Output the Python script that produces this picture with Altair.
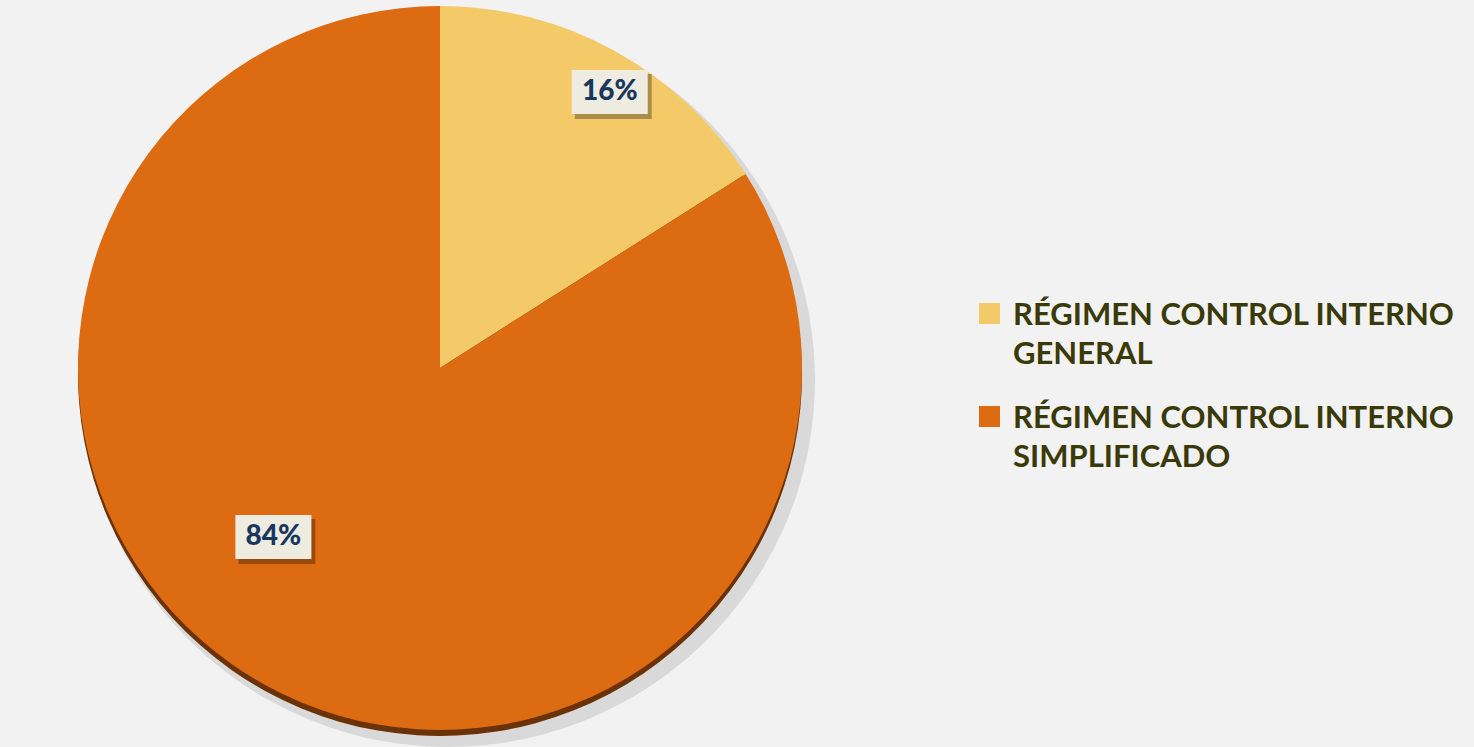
import altair as alt
import pandas as pd

categories = ["RÉGIMEN CONTROL INTERNO GENERAL", "RÉGIMEN CONTROL INTERNO SIMPLIFICADO"]
legend_labels = ["RÉGIMEN CONTROL INTERNO\nGENERAL", "RÉGIMEN CONTROL INTERNO\nSIMPLIFICADO"]
values = [16, 84]
pct_labels = ["16%", "84%"]
colors = ["#F4CA69", "#DD6B12"]

df = pd.DataFrame({
    "cat": categories,
    "legend": legend_labels,
    "value": values,
    "label": pct_labels,
    "order": [0, 1],
})

W, H = 1474, 747
CX, CY, R = 440, 368, 362

base = alt.Chart(df)
color_scale = alt.Scale(domain=categories, range=colors)

theta = alt.Theta("value:Q", stack=True)
order = alt.Order("order:Q")

shadow = base.mark_arc(radius=R + 5, color="#000000", opacity=0.10).encode(
    theta=theta, order=order, x=alt.value(CX + 8), y=alt.value(CY + 12)
)
rim = base.mark_arc(radius=R, color="#6A3206").encode(
    theta=theta, order=order, x=alt.value(CX), y=alt.value(CY + 6)
)
pie = base.mark_arc(radius=R).encode(
    theta=theta,
    order=order,
    color=alt.Color("cat:N", scale=color_scale, legend=None),
    x=alt.value(CX),
    y=alt.value(CY),
)

lab = base.transform_joinaggregate(total="sum(value)").transform_window(
    cum="sum(value)", sort=[alt.SortField("order")]
).transform_calculate(
    mid="(datum.cum - datum.value / 2) / datum.total * 2 * PI",
    rf="datum.value < 50 ? 0.87 : 0.64",
).transform_calculate(
    px=f"{CX} + {R} * datum.rf * sin(datum.mid) + (datum.value < 50 ? 18 : -55)",
    py=f"{CY} - {R} * datum.rf * cos(datum.mid) - (datum.value < 50 ? 0 : 34)",
).transform_calculate(
    bx0="datum.px - 38", bx1="datum.px + 38", by0="datum.py - 22", by1="datum.py + 22",
    sx0="datum.px - 35", sx1="datum.px + 42", sy0="datum.py - 18", sy1="datum.py + 27",
)

box_shadow = lab.mark_rect(color="#000000", opacity=0.3).encode(
    x=alt.X("sx0:Q", scale=None), x2="sx1:Q",
    y=alt.Y("sy0:Q", scale=None), y2="sy1:Q",
)
box = lab.mark_rect(color="#EEEBE0").encode(
    x=alt.X("bx0:Q", scale=None), x2="bx1:Q",
    y=alt.Y("by0:Q", scale=None), y2="by1:Q",
)
box_text = lab.mark_text(
    font="Lato", fontWeight=900, fontSize=28, color="#17375E",
    align="center", baseline="middle",
).encode(
    x=alt.X("px:Q", scale=None), y=alt.Y("py:Q", scale=None), text="label:N"
)

leg_sq = base.mark_square(size=441, opacity=1, filled=True).encode(
    x=alt.value(989.5),
    y=alt.Y("order:Q", scale=alt.Scale(domain=[0, 1], range=[313.5, 416.5]), axis=None),
    color=alt.Color("cat:N", scale=color_scale, legend=None),
)
leg_txt = base.mark_text(
    font="Lato", fontWeight="bold", fontSize=31, color="#3A3A08",
    align="left", baseline="alphabetic", lineBreak="\n", lineHeight=39,
).encode(
    x=alt.value(1013),
    y=alt.Y("order:Q", scale=alt.Scale(domain=[0, 1], range=[325, 428]), axis=None),
    text="legend:N",
)

chart = alt.layer(
    shadow, rim, pie, box_shadow, box, box_text, leg_sq, leg_txt
).resolve_scale(y="independent").properties(
    width=W, height=H, autosize=alt.AutoSizeParams(type="none"), padding=0,
    background="#F2F2F2",
).configure_view(stroke=None)

chart.save("out.html", embed_options={"renderer": "svg", "actions": False})
